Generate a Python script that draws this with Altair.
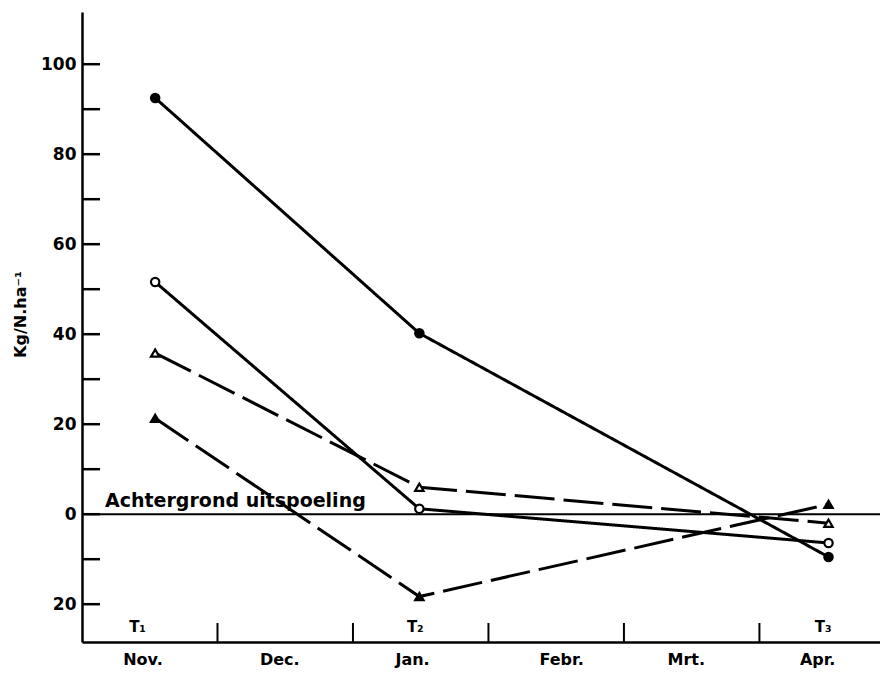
import altair as alt
import pandas as pd

# ---- data ----
months = ["Nov.", "Dec.", "Jan.", "Febr.", "Mrt.", "Apr."]
month_label_pos = [0.45, 1.46, 2.44, 3.54, 4.46, 5.43]   # months since 1 Nov
month_ticks = [1, 2, 3, 4, 5]                             # month boundaries
times = ["T\u2081", "T\u2082", "T\u2083"]
time_label_pos = [0.41, 2.46, 5.47]
time_pos = [0.54, 2.49, 5.51]                             # sampling moments

series = ["s1", "s2", "s3", "s4"]
s1 = [92.5, 40.2, -9.5]    # filled circle, solid
s2 = [51.6, 1.2, -6.4]     # open circle, solid
s3 = [35.8, 6.0, -2.0]     # open triangle, dashed
s4 = [21.3, -18.3, 2.2]    # filled triangle, dashed

y_tick_values = [-20, -10, 0, 10, 20, 30, 40, 50, 60, 70, 80, 90, 100]
y_label_values = [-20, 0, 20, 40, 60, 80, 100]
baseline_text = "Achtergrond uitspoeling"
baseline_value = [0]
baseline_text_pos = [0.17]

# ---- tables ----
rows = []
for name, vals in zip(series, [s1, s2, s3, s4]):
    for t, v in zip(time_pos, vals):
        rows.append({"series": name, "x": t, "y": v})
df = pd.DataFrame(rows)

W, H = 798, 630
FONT = "DejaVu Sans"

xscale = alt.Scale(domain=[0, 5.89], nice=False, zero=False)
yscale = alt.Scale(domain=[-28.4, 111.6], nice=False, zero=False)
xaxis = alt.Axis(labels=False, ticks=False, grid=False, domainWidth=2.5,
                 domainColor="black")
yaxis = alt.Axis(values=y_label_values, labelExpr="abs(datum.value)",
                 ticks=False, grid=False, domainWidth=2.5, domainColor="black",
                 labelPadding=6, labelFontSize=17, labelFontWeight="bold",
                 labelFont=FONT, labelColor="black",
                 titleFont=FONT, titleFontSize=16, titleFontWeight="bold",
                 titleColor="black", titleX=-62, titleY=302, titleAngle=270,
                 titleAlign="center", titleBaseline="middle")


def X(f):
    return alt.X(f"{f}:Q", scale=xscale, axis=xaxis, title=None)


def Y(f):
    return alt.Y(f"{f}:Q", scale=yscale, axis=yaxis, title="Kg/N.ha\u207b\u00b9")


zero_df = pd.DataFrame({"y": baseline_value})
zero_rule = alt.Chart(zero_df).mark_rule(color="black", strokeWidth=2).encode(y=Y("y"))

ann_df = pd.DataFrame({"x": baseline_text_pos, "y": baseline_value, "t": [baseline_text]})
ann = alt.Chart(ann_df).mark_text(align="left", baseline="bottom", dy=-3,
                                  fontSize=19, fontWeight="bold", font=FONT,
                                  color="black").encode(x=X("x"), y=Y("y"), text="t:N")

lines = alt.Chart(df).mark_line(color="black", strokeWidth=3).encode(
    x=X("x"), y=Y("y"),
    detail="series:N",
    strokeDash=alt.StrokeDash("series:N", legend=None,
                              scale=alt.Scale(domain=series,
                                              range=[[1, 0], [1, 0], [40, 9], [40, 9]])),
)

points = alt.Chart(df).mark_point(filled=True, size=70, strokeWidth=2.2,
                                  stroke="black", opacity=1).encode(
    x=X("x"), y=Y("y"),
    shape=alt.Shape("series:N", legend=None,
                    scale=alt.Scale(domain=series,
                                    range=["circle", "circle", "triangle-up", "triangle-up"])),
    fill=alt.Fill("series:N", legend=None,
                  scale=alt.Scale(domain=series,
                                  range=["black", "white", "white", "black"])),
)

ytick_df = pd.DataFrame({"y": y_tick_values})
yticks = alt.Chart(ytick_df).mark_rule(color="black", strokeWidth=2.5).encode(
    y=Y("y"), x=alt.value(0), x2=alt.value(18))

xtick_df = pd.DataFrame({"x": month_ticks})
xticks = alt.Chart(xtick_df).mark_rule(color="black", strokeWidth=2).encode(
    x=X("x"), y=alt.value(H), y2=alt.value(H - 19))

mon_df = pd.DataFrame({"x": month_label_pos, "t": months})
mon = alt.Chart(mon_df).mark_text(fontSize=16, fontWeight="bold", font=FONT,
                                  color="black", baseline="middle").encode(
    x=X("x"), y=alt.value(H + 18), text="t:N")

tl_df = pd.DataFrame({"x": time_label_pos, "t": times})
tl = alt.Chart(tl_df).mark_text(fontSize=15, fontWeight="bold", font=FONT,
                                color="black", baseline="middle").encode(
    x=X("x"), y=alt.value(H - 15), text="t:N")

chart = alt.layer(zero_rule, ann, lines, points, yticks, xticks, mon, tl).properties(
    width=W, height=H,
    autosize=alt.AutoSizeParams(type="none"),
    padding={"left": 74, "top": 4, "right": 0, "bottom": 27},
).configure(background="white").configure_view(stroke=None)

chart.save("out.html", embed_options={"renderer": "svg", "actions": False})
